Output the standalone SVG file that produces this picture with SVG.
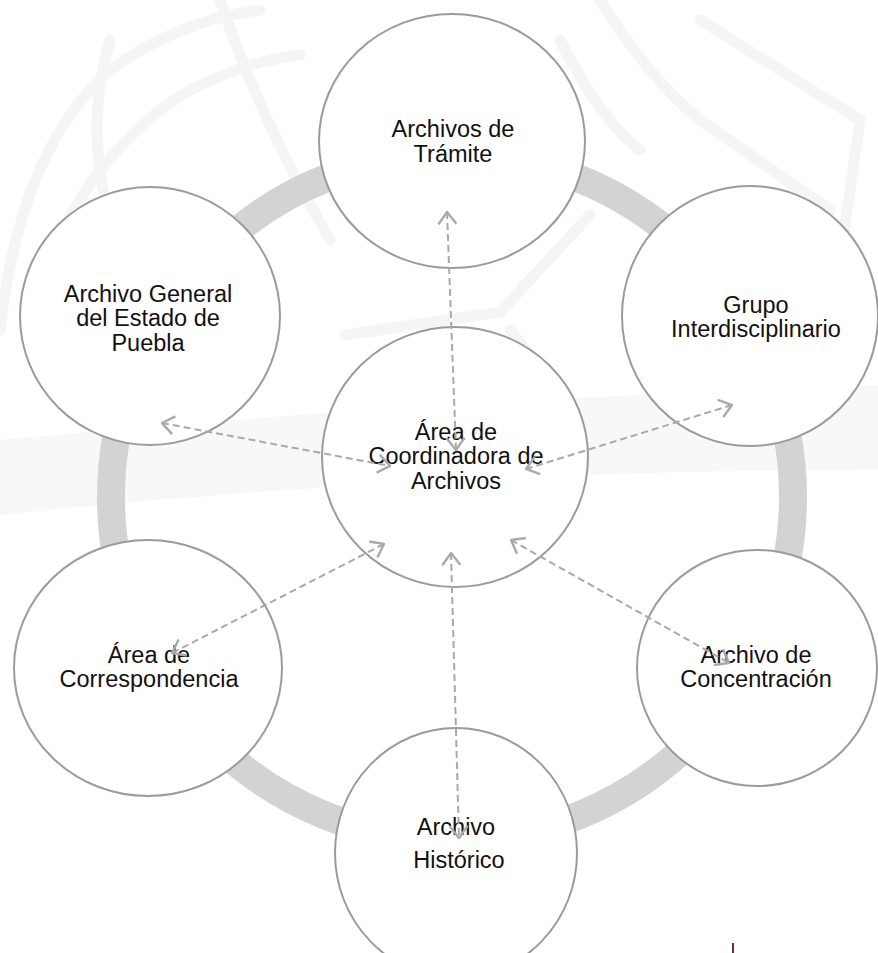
<svg xmlns="http://www.w3.org/2000/svg" width="878" height="953" viewBox="0 0 878 953">
  <defs>
    <style>
      .wm { fill: none; stroke: #f5f5f5; stroke-width: 11; stroke-linejoin: round; stroke-linecap: round; }
      .ring { fill: none; stroke: #d3d3d3; stroke-width: 28; }
      .node { fill: #ffffff; stroke: #9b9b9b; stroke-width: 2; }
      .lbl { font-family: "Liberation Sans", Arial, sans-serif; font-size: 23.5px; fill: #111111; text-anchor: middle; }
      .link { fill: none; stroke: #a9a9a9; stroke-width: 2; stroke-dasharray: 7 4; marker-start: url(#chev); marker-end: url(#chev); }
    </style>
    <marker id="chev" viewBox="0 0 14 20" refX="13" refY="10" markerWidth="14" markerHeight="20" markerUnits="userSpaceOnUse" orient="auto-start-reverse">
      <path d="M1,1 L13,10 L1,19" fill="none" stroke="#a9a9a9" stroke-width="2.4" stroke-dasharray="none"/>
    </marker>
  </defs>

  <rect width="878" height="953" fill="#ffffff"/>

  <!-- faint decorative background strokes -->
  <g id="watermark">
    <path d="M0,440 Q420,400 878,385 L878,470 Q430,470 0,515 Z" fill="#f8f8f8"/>
    <path class="wm" d="M0,330 Q20,150 110,70 Q180,20 260,10"/>
    <path class="wm" d="M40,280 Q90,150 190,90 Q250,60 300,55"/>
    <path class="wm" d="M110,40 Q80,140 120,250"/>
    <path class="wm" d="M220,0 Q260,120 330,240"/>
    <path class="wm" d="M345,335 L500,312 L590,215"/>
    <path class="wm" d="M510,330 L580,420"/>
    <path class="wm" d="M600,0 Q650,80 700,120 L830,210"/>
    <path class="wm" d="M700,20 L860,120 L840,260"/>
    <path class="wm" d="M560,40 Q600,120 640,150"/>
  </g>

  <!-- large ring behind the nodes -->
  <ellipse class="ring" cx="452" cy="497" rx="341" ry="343"/>

  <g id="node-tramite">
    <ellipse class="node" cx="452" cy="141" rx="133" ry="127"/>
    <text class="lbl" x="453" y="137">Archivos de</text>
    <text class="lbl" x="453" y="162">Trámite</text>
  </g>

  <g id="node-general">
    <ellipse class="node" cx="150" cy="316" rx="130" ry="129"/>
    <text class="lbl" x="148" y="302">Archivo General</text>
    <text class="lbl" x="148" y="326">del Estado de</text>
    <text class="lbl" x="148" y="351">Puebla</text>
  </g>

  <g id="node-grupo">
    <ellipse class="node" cx="750" cy="316" rx="128" ry="130"/>
    <text class="lbl" x="756" y="313">Grupo</text>
    <text class="lbl" x="756" y="337">Interdisciplinario</text>
  </g>

  <g id="node-coordinadora">
    <ellipse class="node" cx="455" cy="457" rx="133" ry="130"/>
    <text class="lbl" x="456" y="440">Área de</text>
    <text class="lbl" x="456" y="464">Coordinadora de</text>
    <text class="lbl" x="456" y="489">Archivos</text>
  </g>

  <g id="node-correspondencia">
    <ellipse class="node" cx="148" cy="668" rx="134" ry="128"/>
    <text class="lbl" x="149" y="663">Área de</text>
    <text class="lbl" x="149" y="687">Correspondencia</text>
  </g>

  <g id="node-concentracion">
    <ellipse class="node" cx="757" cy="668" rx="120" ry="118"/>
    <text class="lbl" x="756" y="663">Archivo de</text>
    <text class="lbl" x="756" y="687">Concentración</text>
  </g>

  <g id="node-historico">
    <ellipse class="node" cx="456" cy="853" rx="121" ry="125"/>
    <text class="lbl" x="456" y="835">Archivo</text>
    <text class="lbl" x="459" y="868">Histórico</text>
  </g>

  <!-- two-way dashed links -->
  <g id="connectors">
    <path class="link" d="M447,212 L456,450"/>
    <path class="link" d="M162,423 L390,466"/>
    <path class="link" d="M732,405 L526,469"/>
    <path class="link" d="M384,544 L172,653"/>
    <path class="link" d="M451,553 L459,838"/>
    <path class="link" d="M511,540 L729,663"/>
  </g>

  <line x1="733" y1="943" x2="733" y2="953" stroke="#6b2a45" stroke-width="2"/>
</svg>
